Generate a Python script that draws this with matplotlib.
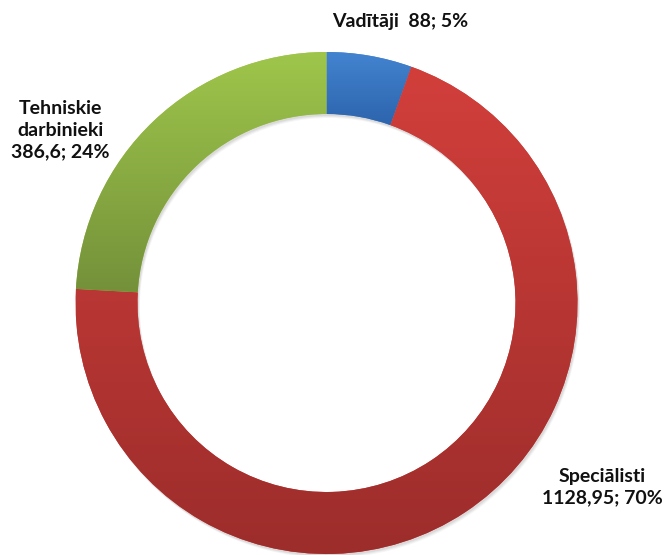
import numpy as np
import matplotlib
matplotlib.use('Agg')
import matplotlib.pyplot as plt
from matplotlib.patches import Wedge
from matplotlib.colors import LinearSegmentedColormap

# data
labels = ['Vadītāji', 'Speciālisti', 'Tehniskie darbinieki']
values = [88, 1128.95, 386.6]
label_texts = ['Vadītāji  88; 5%', 'Speciālisti\n1128,95; 70%', 'Tehniskie\ndarbinieki\n386,6; 24%']

# gradient colours (top, bottom) per slice
grad = [('#4384d0', '#2d64ad'), ('#d23f3b', '#9c2d2b'), ('#9fc64b', '#74913a')]

W, H = 665, 555
cx, cy, R = 326.5, 303, 251.0
r_in = 189.0

fig = plt.figure(figsize=(W / 100, H / 100), dpi=100)
ax = fig.add_axes([0, 0, 1, 1])

# soft shadow behind ring
for k, a in [(4, 0.04), (3, 0.05), (2, 0.06)]:
    sh = Wedge((k * 0.6 / R, -k / R), 1.0, 0, 360, width=(R - r_in) / R,
               facecolor='black', alpha=a, edgecolor='none', zorder=0)
    ax.add_patch(sh)

wedges, _ = ax.pie(values, startangle=90, counterclock=False,
                   radius=1.0, colors=[g[0] for g in grad],
                   wedgeprops=dict(width=(R - r_in) / R, edgecolor='none'))

# vertical gradient inside each slice
for w, (top, bot) in zip(wedges, grad):
    w.set_zorder(1)
    ext = w.get_path().get_extents()
    cmap = LinearSegmentedColormap.from_list('g', [top, bot])
    img = ax.imshow(np.linspace(0, 1, 256).reshape(-1, 1), cmap=cmap,
                    extent=[ext.x0, ext.x1, ext.y0, ext.y1], origin='upper',
                    aspect='auto', zorder=2, interpolation='bilinear')
    img.set_clip_path(w)

ax.set_xlim(-cx / R, (W - cx) / R)
ax.set_ylim(-(H - cy) / R, cy / R)
ax.set_aspect('auto')
ax.axis('off')


def px(x, y):
    return (x - cx) / R, (cy - y) / R


font = dict(family='Lato', fontweight='bold', fontsize=14, color='#111111')
ax.text(*px(400, 21), label_texts[0], ha='center', va='center', **font)
ax.text(*px(602, 487), label_texts[1], ha='center', va='center',
        linespacing=1.35, **font)
ax.text(*px(60, 130), label_texts[2], ha='center', va='center',
        linespacing=1.35, **font)

fig.savefig('out.png', dpi=100)
